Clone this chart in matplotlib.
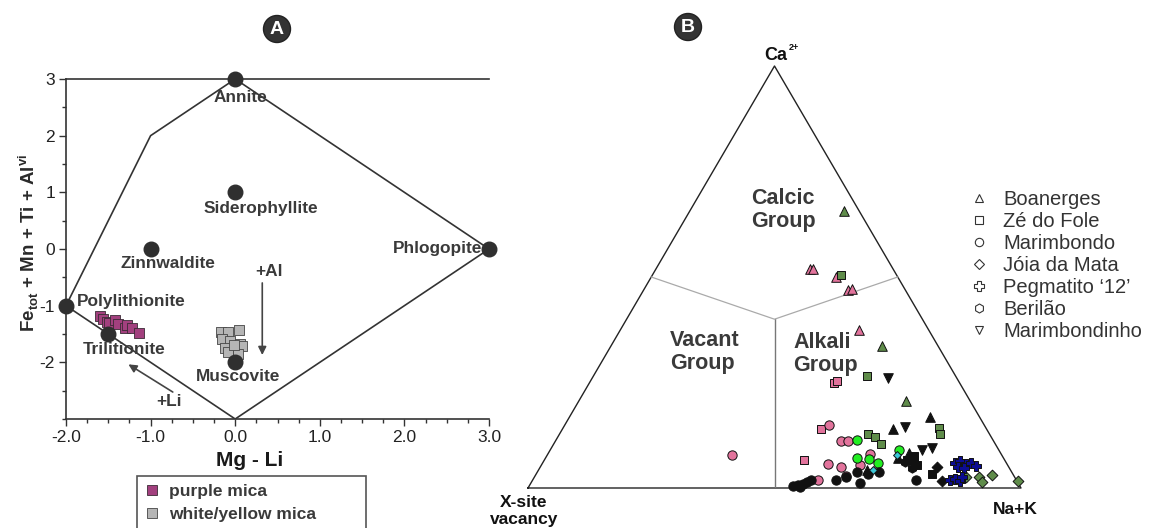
import matplotlib
matplotlib.use('Agg')
import matplotlib.pyplot as plt
from matplotlib.lines import Line2D
from matplotlib.patches import Ellipse, Rectangle
from matplotlib.ticker import MultipleLocator
import numpy as np

plt.rcParams['font.family'] = ['Liberation Sans', 'DejaVu Sans']
plt.rcParams['axes.unicode_minus'] = False

W, H = 1150, 528

# ---------------- Panel A data ----------------
endmember_names = ['Annite', 'Siderophyllite', 'Zinnwaldite', 'Phlogopite',
                   'Polylithionite', 'Trilitionite', 'Muscovite']
endmember_x = [0.0, 0.0, -1.0, 3.0, -2.0, -1.5, 0.0]
endmember_y = [3.0, 1.0, 0.0, 0.0, -1.0, -1.5, -2.0]
field_x = [-2.0, -1.0, 0.0, 3.0, 0.0, -2.0]
field_y = [-1.0, 2.0, 3.0, 0.0, -3.0, -1.0]
purple_x = [-1.60, -1.56, -1.52, -1.49, -1.42, -1.38, -1.30, -1.28, -1.22, -1.14]
purple_y = [-1.19, -1.23, -1.28, -1.31, -1.25, -1.32, -1.40, -1.34, -1.40, -1.49]
white_x = [-0.17, -0.08, 0.05, -0.16, -0.06, 0.06, 0.08, -0.12, -0.08, 0.03, -0.02]
white_y = [-1.46, -1.46, -1.43, -1.58, -1.63, -1.67, -1.72, -1.75, -1.81, -1.85, -1.70]
xtick_vals = [-2, -1, 0, 1, 2, 3]
xtick_labels = ['-2.0', '-1.0', '0.0', '1.0', '2.0', '3.0']
ytick_vals = [-2, -1, 0, 1, 2, 3]
ytick_labels = ['-2', '-1', '0', '1', '2', '3']

# ---------------- Panel B data (fractions Ca, Na+K) ----------------
boa_green_ca = [0.657, 0.336, 0.206]
boa_green_nak = [0.313, 0.550, 0.663]
boa_pink_ca = [0.520, 0.518, 0.499, 0.470, 0.472, 0.374]
boa_pink_nak = [0.313, 0.320, 0.376, 0.415, 0.421, 0.484]
boa_black_ca = [0.168, 0.139, 0.082, 0.043, 0.070]
boa_black_nak = [0.731, 0.670, 0.732, 0.666, 0.715]

zdf_green_ca = [0.504, 0.265, 0.141, 0.129, 0.129, 0.120, 0.104]
zdf_green_nak = [0.382, 0.556, 0.764, 0.772, 0.625, 0.644, 0.665]
zdf_pink_ca = [0.250, 0.254, 0.139, 0.066]
zdf_pink_nak = [0.496, 0.500, 0.524, 0.527]
zdf_black_ca = [0.066, 0.055, 0.066, 0.032, 0.075]
zdf_black_nak = [0.750, 0.761, 0.735, 0.803, 0.745]

mar_pink_ca = [0.078, 0.149, 0.111, 0.111, 0.056, 0.080, 0.055, 0.049, 0.019, 0.028]
mar_pink_nak = [0.375, 0.537, 0.579, 0.594, 0.580, 0.654, 0.645, 0.610, 0.579, 0.631]
mar_lime_ca = [0.114, 0.090, 0.072, 0.068, 0.060]
mar_lime_nak = [0.610, 0.708, 0.631, 0.658, 0.679]
mar_black_ca = [0.005, 0.007, 0.009, 0.014, 0.019, 0.002, 0.019, 0.025, 0.039,
                0.013, 0.033, 0.039, 0.019]
mar_black_nak = [0.535, 0.544, 0.553, 0.559, 0.565, 0.551, 0.615, 0.633, 0.647,
                 0.667, 0.674, 0.693, 0.777]

joia_green_ca = [0.025, 0.027, 0.015, 0.031, 0.017]
joia_green_nak = [0.875, 0.902, 0.913, 0.926, 0.986]
joia_black_ca = [0.049, 0.017]
joia_black_nak = [0.806, 0.831]
joia_cyan_ca = [0.078, 0.043]
joia_cyan_nak = [0.709, 0.678]

peg_blue_ca = [0.059, 0.064, 0.057, 0.059, 0.052, 0.050, 0.047, 0.019, 0.021, 0.017, 0.026]
peg_blue_nak = [0.837, 0.844, 0.860, 0.869, 0.883, 0.847, 0.861, 0.846, 0.856, 0.868, 0.867]

ber_black_ca = [0.062, 0.047]
ber_black_nak = [0.734, 0.755]

mbd_black_ca = [0.261, 0.145, 0.090, 0.095]
mbd_black_nak = [0.599, 0.693, 0.754, 0.771]

localities = ['Boanerges', 'Zé do Fole', 'Marimbondo', 'Jóia da Mata',
              'Pegmatito \u201812\u2019', 'Berilão', 'Marimbondinho']

# ---------------- styles ----------------
PINK = '#e2739c'
GREEN = '#5f8c4a'
BLACK = '#111111'
LIME = '#22ee22'
BLUE = '#0c0c90'
CYAN = '#3cc6d6'
TXT = '#3a3a3a'

fig = plt.figure(figsize=(W / 100, H / 100), dpi=100)


def fx(x):
    return x / W


def fy(y):
    return 1 - y / H


# ================= Panel A =================
axA = fig.add_axes([fx(66), fy(419), (489 - 66) / W, (419 - 79) / H])
axA.set_xlim(-2, 3)
axA.set_ylim(-3, 3)
axA.plot(field_x, field_y, color='#333333', lw=1.2, zorder=2)
axA.scatter(purple_x, purple_y, marker='s', s=42, c='#a2407e', edgecolors='#3a2a35',
            linewidths=0.6, zorder=3)
axA.scatter(white_x, white_y, marker='s', s=42, c='#b5b5b5', edgecolors='#444444',
            linewidths=0.6, zorder=3)
axA.scatter(endmember_x, endmember_y, s=110, c='#2f2f2f', zorder=5, clip_on=False)

lab_pos = {
    'Annite': (0.06, 2.68, 'center'),
    'Siderophyllite': (0.3, 0.72, 'center'),
    'Zinnwaldite': (-0.79, -0.25, 'center'),
    'Phlogopite': (2.92, 0.0, 'right'),
    'Polylithionite': (-1.87, -0.92, 'left'),
    'Trilitionite': (-1.31, -1.78, 'center'),
    'Muscovite': (0.03, -2.25, 'center'),
}
for name in endmember_names:
    x, y, ha = lab_pos[name]
    axA.text(x, y, name, ha=ha, va='center', fontsize=12.4, fontweight='bold',
             color=TXT, zorder=6)

axA.annotate('', xy=(0.32, -1.92), xytext=(0.32, -0.55),
             arrowprops=dict(arrowstyle='-|>', color='#444444', lw=1.2, mutation_scale=12))
axA.text(0.4, -0.4, '+Al', ha='center', va='center', fontsize=12.4, fontweight='bold', color=TXT)
axA.annotate('', xy=(-1.29, -2.01), xytext=(-0.71, -2.55),
             arrowprops=dict(arrowstyle='-|>', color='#444444', lw=1.2, mutation_scale=12))
axA.text(-0.78, -2.69, '+Li', ha='center', va='center', fontsize=12.4, fontweight='bold', color=TXT)

axA.set_xticks(xtick_vals)
axA.set_xticklabels(xtick_labels)
axA.set_yticks(ytick_vals)
axA.set_yticklabels(ytick_labels)
axA.xaxis.set_minor_locator(MultipleLocator(0.25))
axA.yaxis.set_minor_locator(MultipleLocator(0.5))
axA.tick_params(which='major', length=5, width=1, color='#333333', labelsize=12.5,
                labelcolor='#222222', pad=3)
axA.tick_params(which='minor', length=3, width=1, color='#333333')
axA.spines['right'].set_visible(False)
for s in ['left', 'bottom', 'top']:
    axA.spines[s].set_color('#333333')
    axA.spines[s].set_linewidth(1.2)
axA.set_xlabel('Mg - Li', fontsize=15, fontweight='bold', color='#1a1a1a')
axA.xaxis.set_label_coords((250 - 66) / 423, (419 - 451) / 340)
axA.set_ylabel('Fe$_\\mathregular{tot}$ + Mn + Ti + Al$^\\mathregular{vi}$',
               fontsize=13.5, fontweight='bold', color='#2a2a2a')
axA.yaxis.set_label_coords((17 - 66) / 423, (419 - 243) / 340)
axA.yaxis.label.set_va('top')

# legend A (box runs below the figure edge)
fig.patches.append(Rectangle((fx(137), fy(545)), (366 - 137) / W, (545 - 476) / H,
                             transform=fig.transFigure, fill=False, ec='#555555', lw=1.2))
legA_handles = [Line2D([], [], ls='', marker='s', ms=7, mfc='#a2407e', mec='#3a2a35', mew=0.6),
                Line2D([], [], ls='', marker='s', ms=7, mfc='#b5b5b5', mec='#444444', mew=0.6)]
fig.legend(legA_handles, ['purple mica', 'white/yellow mica'], loc='upper left',
           bbox_to_anchor=(fx(131), fy(472)), frameon=False, handlelength=1.0,
           handletextpad=0.5, labelspacing=0.45, borderpad=0.2,
           prop=dict(size=12.5, weight='bold'), labelcolor=TXT)

# ================= Panel B =================
axB = fig.add_axes([fx(528), fy(488), (1021 - 528) / W, (488 - 66) / H])
axB.set_xlim(0, 1)
axB.set_ylim(0, 1)
axB.axis('off')


def tern(ca, nak):
    ca = np.asarray(ca)
    nak = np.asarray(nak)
    return nak + ca / 2, ca


# outer triangle
tx, ty = tern([0, 1, 0, 0], [0, 0, 1, 0])
axB.plot(tx, ty, color='#222222', lw=1.0, clip_on=False, zorder=1)
# internal boundaries
cx, cy = tern([0.0, 0.4], [0.5, 0.3])
axB.plot(cx, cy, color='#777777', lw=1.0, zorder=1)
lx, ly = tern([0.5, 0.4, 0.5], [0.0, 0.3, 0.5])
axB.plot(lx, ly, color='#aaaaaa', lw=0.9, zorder=1)

series = [
    ('^', GREEN, boa_green_ca, boa_green_nak, 48),
    ('^', PINK, boa_pink_ca, boa_pink_nak, 48),
    ('^', BLACK, boa_black_ca, boa_black_nak, 48),
    ('s', GREEN, zdf_green_ca, zdf_green_nak, 40),
    ('s', PINK, zdf_pink_ca, zdf_pink_nak, 40),
    ('s', BLACK, zdf_black_ca, zdf_black_nak, 40),
    ('o', PINK, mar_pink_ca, mar_pink_nak, 45),
    ('o', LIME, mar_lime_ca, mar_lime_nak, 45),
    ('o', BLACK, mar_black_ca, mar_black_nak, 45),
    ('D', GREEN, joia_green_ca, joia_green_nak, 30),
    ('D', BLACK, joia_black_ca, joia_black_nak, 30),
    ('D', CYAN, joia_cyan_ca, joia_cyan_nak, 16),
    ('P', BLUE, peg_blue_ca, peg_blue_nak, 45),
    ('h', BLACK, ber_black_ca, ber_black_nak, 45),
    ('v', BLACK, mbd_black_ca, mbd_black_nak, 48),
]
for mk, col, ca, nak, sz in series:
    x, y = tern(ca, nak)
    axB.scatter(x, y, marker=mk, s=sz, c=col, edgecolors='#111111', linewidths=0.7,
                zorder=4, clip_on=False)

# vertex and field labels
fig.text(fx(776), fy(55), 'Ca', ha='center', va='center', fontsize=13,
         fontweight='bold', color='#111111')
fig.text(fx(789), fy(47), '2+', ha='left', va='center', fontsize=6.5,
         fontweight='bold', color='#111111')
fig.text(fx(524), fy(511), 'X-site\nvacancy', ha='center', va='center', fontsize=12.5,
         fontweight='bold', color='#111111', linespacing=1.1)
fig.text(fx(1015), fy(510), 'Na+K', ha='center', va='center', fontsize=12.5,
         fontweight='bold', color='#111111')
fig.text(fx(751), fy(210), 'Calcic\nGroup', ha='left', va='center', fontsize=15.5,
         fontweight='bold', color=TXT, linespacing=1.1)
fig.text(fx(670), fy(352), 'Vacant\nGroup', ha='left', va='center', fontsize=15.5,
         fontweight='bold', color=TXT, linespacing=1.1)
fig.text(fx(793), fy(354), 'Alkali\nGroup', ha='left', va='center', fontsize=15.5,
         fontweight='bold', color=TXT, linespacing=1.1)

legB_markers = ['^', 's', 'o', 'D', 'P', 'h', 'v']
legB_sizes = [6, 5.5, 6, 5, 7, 6.5, 6]
legB_handles = [Line2D([], [], ls='', marker=m, ms=ms, mfc='white', mec='#333333', mew=0.8)
                for m, ms in zip(legB_markers, legB_sizes)]
fig.legend(legB_handles, localities, loc='upper left', bbox_to_anchor=(fx(959), fy(180)),
           frameon=False, handlelength=1.0, handletextpad=0.7, labelspacing=0.15,
           borderpad=0.0, prop=dict(size=14.5), labelcolor='#333333')

# panel badges
for (cx_, cy_, letter) in [(277, 29, 'A'), (688, 27, 'B')]:
    fig.patches.append(Ellipse((fx(cx_), fy(cy_)), 27 / W, 27 / H, transform=fig.transFigure,
                               fc='#333333', ec='#222222'))
    fig.text(fx(cx_), fy(cy_ + 1), letter, ha='center', va='center', fontsize=14,
             fontweight='bold', color='white')

fig.savefig('out.png', dpi=100)
